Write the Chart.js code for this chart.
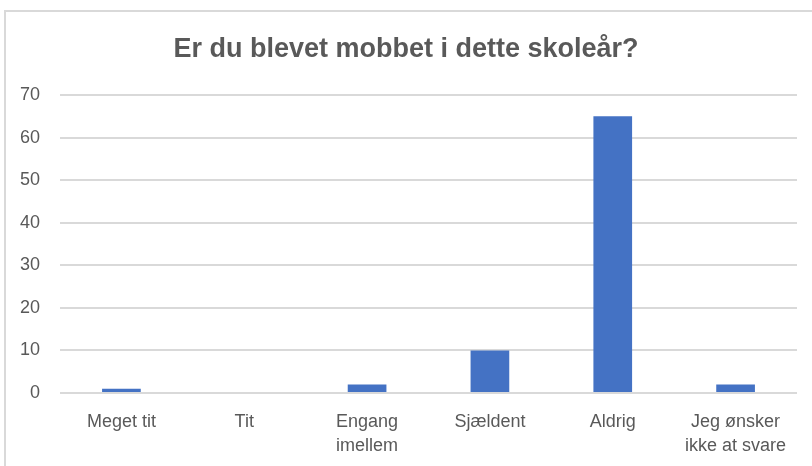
<!DOCTYPE html>
<html lang="da">
<head>
    <meta charset="UTF-8">
    <title>Er du blevet mobbet i dette skoleår?</title>
    <style>
        body {
            margin: 0;
            padding: 0;
            background-color: #fff;
            font-family: "Liberation Sans", Arial, sans-serif;
        }
        .frame {
            position: absolute;
            left: 4px;
            top: 10px;
            width: 900px;
            height: 600px;
            border: 2px solid #d9d9d9;
        }
        .chart-box {
            position: absolute;
            left: 0;
            top: 0;
            width: 812px;
            height: 466px;
        }
    </style>
    <script src="https://cdn.jsdelivr.net/npm/chart.js"></script>
</head>
<body>
    <div class="frame"></div>
    <div class="chart-box">
        <canvas id="mobbetChart" width="812" height="466"></canvas>
    </div>

    <script>
        // Data
        const categories = [
            'Meget tit',
            'Tit',
            ['Engang', 'imellem'],
            'Sjældent',
            'Aldrig',
            ['Jeg ønsker', 'ikke at svare']
        ];
        const answers = [1, 0, 2, 10, 65, 2];
        const yTicks = [0, 10, 20, 30, 40, 50, 60, 70];

        const textColor = '#595959';
        const gridColor = '#d9d9d9';
        const fontFamily = '"Liberation Sans", Arial, sans-serif';

        const ctx = document.getElementById('mobbetChart').getContext('2d');
        new Chart(ctx, {
            type: 'bar',
            data: {
                labels: categories,
                datasets: [{
                    label: 'Antal',
                    data: answers,
                    backgroundColor: '#4472C4',
                    borderWidth: 0,
                    categoryPercentage: 1,
                    barPercentage: 0.315
                }]
            },
            options: {
                responsive: false,
                animation: false,
                layout: {
                    padding: { left: 15, right: 15, top: 0, bottom: 0 }
                },
                plugins: {
                    legend: { display: false },
                    tooltip: { enabled: false },
                    title: {
                        display: true,
                        text: 'Er du blevet mobbet i dette skoleår?',
                        color: textColor,
                        font: { family: fontFamily, size: 27, weight: 'bold', lineHeight: 1.2 },
                        padding: { top: 33, bottom: 29.6 }
                    }
                },
                scales: {
                    x: {
                        grid: { display: false },
                        border: { display: false },
                        ticks: {
                            color: textColor,
                            autoSkip: false,
                            maxRotation: 0,
                            padding: 9,
                            font: { family: fontFamily, size: 18, lineHeight: 1.333 }
                        },
                        afterFit: function (scale) { scale.height = 466 - 393; }
                    },
                    y: {
                        min: 0,
                        max: yTicks[yTicks.length - 1],
                        grid: { color: gridColor, lineWidth: 2, drawTicks: false },
                        border: { display: false },
                        afterBuildTicks: function (scale) {
                            scale.ticks = yTicks.map(function (v) { return { value: v }; });
                        },
                        ticks: {
                            color: textColor,
                            padding: 20,
                            font: { family: fontFamily, size: 18 }
                        },
                        afterFit: function (scale) { scale.width = 45; }
                    }
                }
            }
        });
    </script>
</body>
</html>
